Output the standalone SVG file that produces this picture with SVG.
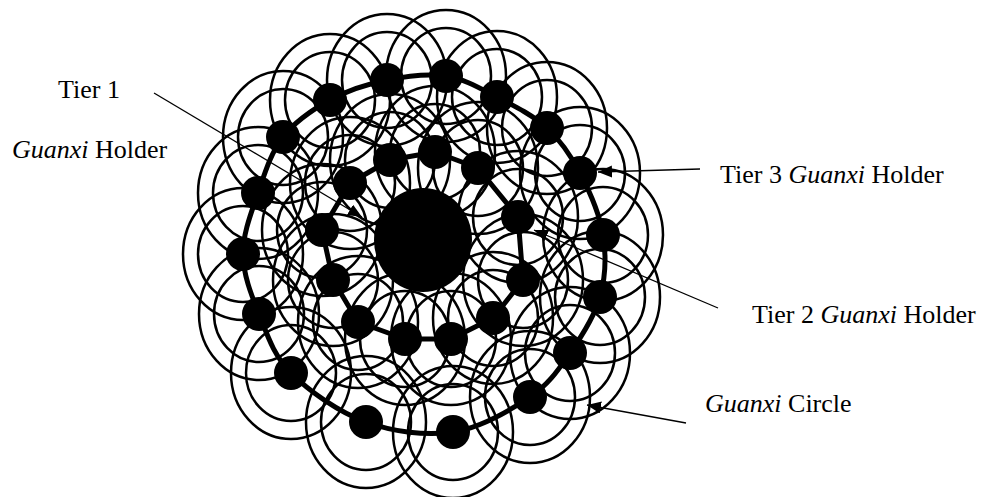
<svg xmlns="http://www.w3.org/2000/svg" width="984" height="497" viewBox="0 0 984 497">
<style>
.ring{fill:none;stroke:#000;stroke-width:2.5}
.dot{fill:#000}
.link{fill:none;stroke:#000;stroke-width:5;stroke-linejoin:round}
.arrow{fill:none;stroke:#000;stroke-width:1.3}
.lbl{font-family:"Liberation Serif","Times New Roman",serif;font-size:26px;fill:#000}
.it{font-style:italic}
</style>
<defs>
<marker id="ah" markerUnits="userSpaceOnUse" markerWidth="16" markerHeight="14" refX="14" refY="6" orient="auto">
<path d="M0,0 L14,6 L0,12 Z" fill="#000"/>
</marker>
<g id="holder">
<ellipse class="ring" rx="45" ry="48"/>
<ellipse class="ring" rx="60" ry="66"/>
<circle class="dot" r="17"/>
</g>
</defs>

<g id="tier3-holders">
<use href="#holder" x="243" y="254"/>
<use href="#holder" x="258" y="193"/>
<use href="#holder" x="283" y="137"/>
<use href="#holder" x="330" y="100"/>
<use href="#holder" x="387" y="80"/>
<use href="#holder" x="446" y="76"/>
<use href="#holder" x="497" y="97"/>
<use href="#holder" x="547" y="128"/>
<use href="#holder" x="580" y="173"/>
<use href="#holder" x="603" y="235"/>
<use href="#holder" x="600" y="297"/>
<use href="#holder" x="570" y="353"/>
<use href="#holder" x="530" y="397"/>
<use href="#holder" x="453" y="432"/>
<use href="#holder" x="366" y="422"/>
<use href="#holder" x="291" y="373"/>
<use href="#holder" x="259" y="314"/>
</g>

<g id="tier2-holders">
<use href="#holder" x="322" y="230"/>
<use href="#holder" x="350" y="183"/>
<use href="#holder" x="390" y="160"/>
<use href="#holder" x="435" y="152"/>
<use href="#holder" x="478" y="168"/>
<use href="#holder" x="518" y="217"/>
<use href="#holder" x="523" y="280"/>
<use href="#holder" x="493" y="318"/>
<use href="#holder" x="451" y="339"/>
<use href="#holder" x="405" y="339"/>
<use href="#holder" x="358" y="322"/>
<use href="#holder" x="333" y="280"/>
</g>

<g id="guanxi-circle">
<path class="link" d="M243,254 C242.83,233.83 251.33,212.5 258,193 C264.67,173.5 271,152.5 283,137 C295,121.5 312.67,109.5 330,100 C347.33,90.5 367.67,84 387,80 C406.33,76 427.67,73.17 446,76 C464.33,78.83 480.17,88.33 497,97 C513.83,105.67 533.17,115.33 547,128 C560.83,140.67 570.67,155.17 580,173 C589.33,190.83 599.67,214.33 603,235 C606.33,255.67 605.5,277.33 600,297 C594.5,316.67 581.67,336.33 570,353 C558.33,369.67 549.5,383.83 530,397 C510.5,410.17 480.33,427.83 453,432 C425.67,436.17 393,431.83 366,422 C339,412.17 308.83,391 291,373 C273.17,355 267,333.83 259,314 C251,294.17 243.17,274.17 243,254 Z"/>
<polygon class="link" points="322,230 350,183 390,160 435,152 478,168 518,217 523,280 493,318 451,339 405,339 358,322 333,280"/>
</g>

<g id="tier1-holder">
<ellipse class="dot" cx="423" cy="240" rx="49" ry="52"/>
</g>

<g id="connectors">
<line class="arrow" x1="154" y1="93" x2="362" y2="217" marker-end="url(#ah)"/>
<line class="arrow" x1="700" y1="169" x2="598" y2="172" marker-end="url(#ah)"/>
<line class="arrow" x1="718" y1="308" x2="534" y2="230" marker-end="url(#ah)"/>
<line class="arrow" x1="686" y1="423" x2="587" y2="405" marker-end="url(#ah)"/>
</g>

<g id="label-tier1">
<text class="lbl" x="58" y="98">Tier 1</text>
<text class="lbl" x="12" y="158"><tspan class="it">Guanxi</tspan> Holder</text>
</g>
<g id="label-tier3">
<text class="lbl" x="720" y="183">Tier 3 <tspan class="it">Guanxi</tspan> Holder</text>
</g>
<g id="label-tier2">
<text class="lbl" x="752" y="323">Tier 2 <tspan class="it">Guanxi</tspan> Holder</text>
</g>
<g id="label-circle">
<text class="lbl" x="705" y="412"><tspan class="it">Guanxi</tspan> Circle</text>
</g>
</svg>
